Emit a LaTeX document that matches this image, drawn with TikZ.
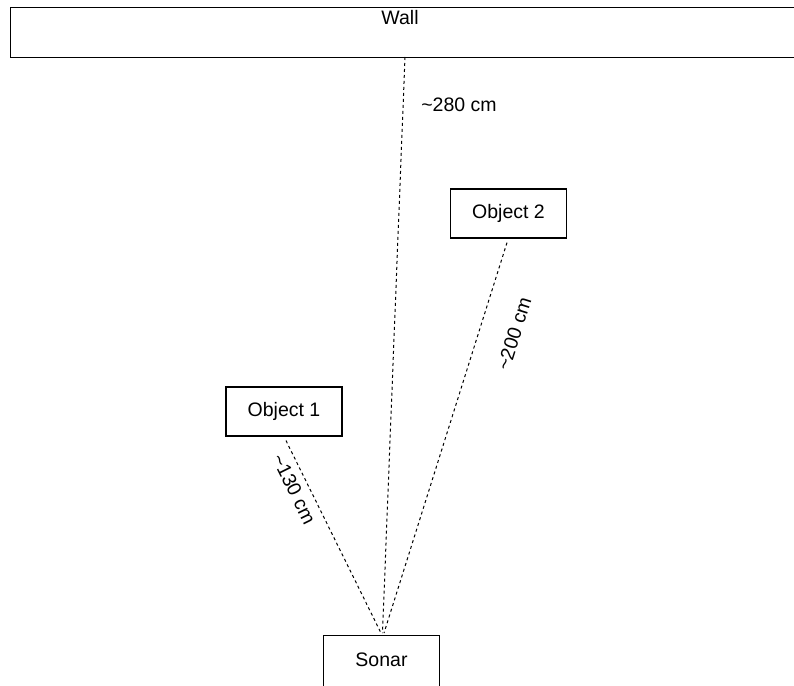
\documentclass[tikz,border=0pt]{standalone}
\usepackage{fontspec}
\setmainfont{Liberation Sans}
\begin{document}
\begin{tikzpicture}[x=1pt,y=-1pt,
  box/.style={draw=black, line width=1.2pt, fill=white, rectangle, inner sep=0pt,
    minimum width=116pt, minimum height=49pt, font=\fontsize{19.5}{23}\selectfont},
  txt/.style={inner sep=0pt, font=\fontsize{19.5}{23}\selectfont},
  link/.style={draw=black, line width=1pt, dash pattern=on 3pt off 3pt}]
  \useasboundingbox (0,0) rectangle (794,685);
  \clip (0,0) rectangle (794,685);

  % wall across the top
  \node[box, anchor=north west, minimum width=820pt, minimum height=50pt] (wall) at (10,7) {};
  \node[txt] (wallLabel) at (400,18) {Wall};
  \coordinate (wallPt) at (405,57);

  % objects and sonar (the sonar box runs past the lower edge)
  \node[box] (obj1) at (284,411.5) {Object 1};
  \node[box] (obj2) at (508.5,213.5) {Object 2};
  \node[box, anchor=north, minimum height=60pt] (sonar) at (381.5,635) {};
  \node[txt] (sonarLabel) at (381.5,660) {Sonar};

  % measured ranges
  \draw[link] (wallPt) -- ([xshift=1pt,yshift=2pt]sonar.north);
  \draw[link] ([xshift=2pt,yshift=-4pt]obj1.south) -- ([xshift=-0.5pt,yshift=2pt]sonar.north);
  \draw[link] ([xshift=-1.5pt,yshift=-4pt]obj2.south) -- ([xshift=2.5pt,yshift=2pt]sonar.north);

  % range labels
  \node[txt] (d280) at (459,105) {\textasciitilde280 cm};
  \node[txt, rotate=72.5] (d200) at (514,334) {\textasciitilde200 cm};
  \node[txt, rotate=-63.7] (d130) at (294,489) {\textasciitilde130 cm};
\end{tikzpicture}
\end{document}
